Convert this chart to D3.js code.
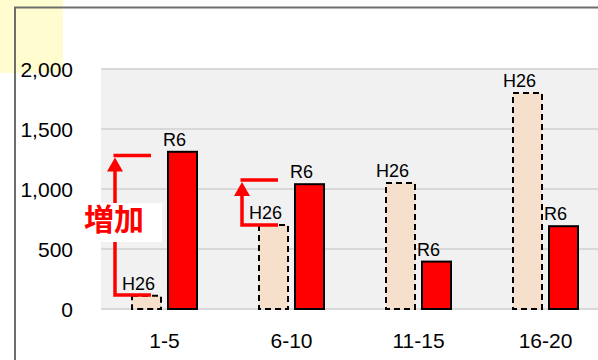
<!DOCTYPE html>
<html><head><meta charset="utf-8">
<script src="https://cdn.jsdelivr.net/npm/d3@7"></script>
<style>html,body{margin:0;padding:0;background:#fff;}svg{display:block;}</style>
</head><body>
<script>
const categories = ["1-5", "6-10", "11-15", "16-20"];
const series = ["H26", "R6"];
const h26Values = [110, 700, 1050, 1800];
const r6Values = [1310, 1040, 395, 690];
const yTicks = [0, 500, 1000, 1500, 2000];
// annotation arrows (value range) for first two groups
const arrowCategories = ["1-5", "6-10"];
const arrowFrom = [117, 700];
const arrowTo = [1280, 1075];
const annotationText = "増加";

const W = 598, H = 360;
const svg = d3.select("body").append("svg").attr("width", W).attr("height", H);

// pale yellow corner patch
svg.append("rect").attr("x", 0).attr("y", 0).attr("width", 63).attr("height", 73).attr("fill", "#fffccf");
// frame
svg.append("path").attr("d", "M15,370 L15,7.5 L610,7.5").attr("fill", "none").attr("stroke", "#6e6e6e").attr("stroke-width", 2);

const plot = {l: 101, r: 609, t: 69, b: 309};
const x0 = d3.scaleBand().domain(categories).range([plot.l, plot.r]);
const x1 = d3.scaleBand().domain(series).range([0, 65]).paddingInner(7 / 36);
const y = d3.scaleLinear().domain([0, 2000]).range([plot.b, plot.t]);

svg.append("rect").attr("x", plot.l).attr("y", plot.t).attr("width", plot.r - plot.l).attr("height", plot.b - plot.t).attr("fill", "#f1f1f1");

// gridlines
svg.append("g").selectAll("line").data(yTicks).join("line")
  .attr("x1", plot.l).attr("x2", plot.r)
  .attr("y1", d => y(d)).attr("y2", d => y(d))
  .attr("stroke", "#d9d9d9").attr("stroke-width", 2);

// y tick labels
svg.append("g").selectAll("text").data(yTicks).join("text")
  .attr("x", 73).attr("y", d => y(d)).attr("dy", "0.36em")
  .attr("text-anchor", "end")
  .attr("font-family", "Liberation Sans, Arial, sans-serif").attr("font-size", 21).attr("fill", "#000")
  .text(d => d3.format(",")(d));

// x labels
svg.append("g").selectAll("text").data(categories).join("text")
  .attr("x", d => x0(d) + x0.bandwidth() / 2).attr("y", 348)
  .attr("text-anchor", "middle")
  .attr("font-family", "Liberation Sans, Arial, sans-serif").attr("font-size", 21).attr("fill", "#000")
  .text(d => d);

const rows = categories.map((c, i) => ({c, H26: h26Values[i], R6: r6Values[i]}));
const groupX = c => x0(c) + x0.bandwidth() / 2 - 32.5;

const bars = [];
rows.forEach(r => series.forEach(s => bars.push({c: r.c, s, v: r[s]})));

svg.append("g").selectAll("rect").data(bars).join("rect")
  .attr("x", d => groupX(d.c) + x1(d.s))
  .attr("y", d => y(d.v))
  .attr("width", x1.bandwidth())
  .attr("height", d => y(0) - y(d.v))
  .attr("fill", d => d.s === "R6" ? "#ff0000" : "#f6e0cb")
  .attr("stroke", "#000")
  .attr("stroke-width", 2)
  .attr("stroke-dasharray", d => d.s === "R6" ? null : "6,4");

svg.append("g").selectAll("text").data(bars).join("text")
  .attr("x", d => groupX(d.c) + x1(d.s) + x1.bandwidth() / 2 - 8)
  .attr("y", d => y(d.v) - 6)
  .attr("text-anchor", "middle")
  .attr("font-family", "Liberation Sans, Arial, sans-serif").attr("font-size", 18).attr("fill", "#000")
  .text(d => d.s);

// arrows
const red = "#ff0000";
arrowCategories.forEach((c, i) => {
  const ax = x0(c) + 14;
  const aEnd = x0(c) + 50;
  const yB = y(arrowFrom[i]), yT = y(arrowTo[i]);
  const g = svg.append("g");
  g.append("path")
    .attr("d", `M${aEnd},${yB} L${ax},${yB} L${ax},${yT + 14}`)
    .attr("fill", "none").attr("stroke", red).attr("stroke-width", 3.5);
  g.append("path")
    .attr("d", `M${ax},${yT + 2} L${ax - 8},${yT + 16} L${ax + 8},${yT + 16} Z`)
    .attr("fill", red);
  g.append("line")
    .attr("x1", ax - 1.5).attr("x2", aEnd).attr("y1", yT).attr("y2", yT)
    .attr("stroke", red).attr("stroke-width", 3.5);
});

// annotation text box
svg.append("rect").attr("x", 83).attr("y", 203).attr("width", 79).attr("height", 39).attr("fill", "#fff");
svg.append("text").attr("x", 84).attr("y", 230)
  .attr("font-family", "Noto Sans CJK JP, sans-serif").attr("font-weight", "bold")
  .attr("font-size", 30).attr("fill", red).text(annotationText);
</script>
</body></html>
